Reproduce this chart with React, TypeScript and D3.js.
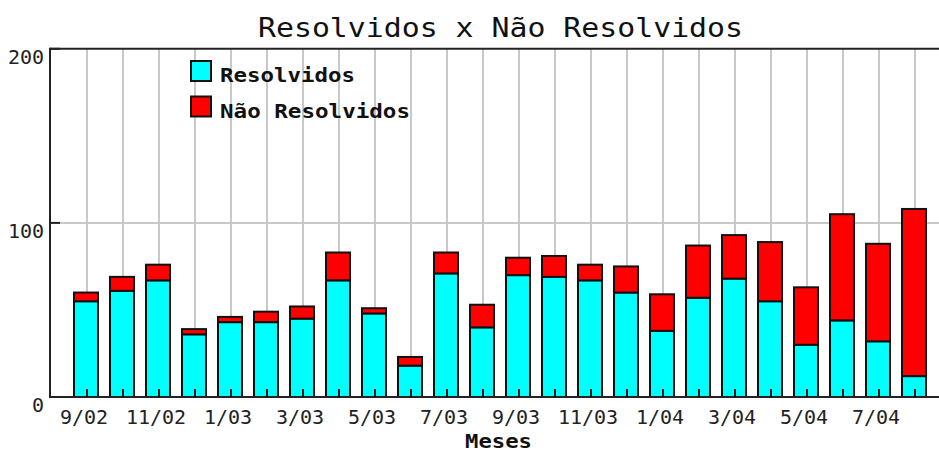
import React from "react";
import * as d3 from "d3";

const months = ["9/02","10/02","11/02","12/02","1/03","2/03","3/03","4/03","5/03","6/03","7/03","8/03","9/03","10/03","11/03","12/03","1/04","2/04","3/04","4/04","5/04","6/04","7/04","8/04"];
const resolvidos = [55,61,67,36,43,43,45,67,48,18,71,40,70,69,67,60,38,57,68,55,30,44,32,12];
const naoResolvidos = [5,8,9,3,3,6,7,16,3,5,12,13,10,12,9,15,21,30,25,34,33,61,56,96];
const yTicks = [0,100,200];
const seriesNames = ["Resolvidos","Não Resolvidos"];
const seriesColors = ["#00ffff","#ff0000"];

const W = 939, H = 452;
const axisLeft = 50, axisRight = 939;

export default function App() {
  const x = d3.scaleBand<string>().domain(months).range([69, 933]).padding(0);
  const y = d3.scaleLinear().domain([0, 200]).range([397, 48.8]);
  const rows = months.map((m, i) => ({ m, r: resolvidos[i], n: naoResolvidos[i] }));
  const stack = d3.stack<any>().keys(["r", "n"])(rows as any);
  const cx = (m: string) => (x(m) as number) + x.bandwidth() / 2;
  const mono = "'DejaVu Sans Mono', monospace";
  return (
    <svg width={W} height={H} style={{ position: "absolute", left: 0, top: 0, background: "#fff" }}>
      <rect width={W} height={H} fill="#fff" />
      {/* grid */}
      {months.map((m) => (
        <line key={"g" + m} x1={cx(m)} x2={cx(m)} y1={y(200)} y2={y(0)} stroke="#c8c8c8" strokeWidth={2} />
      ))}
      {yTicks.filter((t) => t > 0 && t < 200).map((t) => (
        <line key={"hg" + t} x1={axisLeft} x2={axisRight} y1={y(t)} y2={y(t)} stroke="#c8c8c8" strokeWidth={2} />
      ))}
      {/* bars */}
      {stack.map((s, si) =>
        s.map((d, i) => (
          <rect
            key={si + "-" + i}
            x={cx(months[i]) - 1 - 12}
            width={24}
            y={y(d[1])}
            height={y(d[0]) - y(d[1])}
            fill={seriesColors[si]}
            stroke="#111"
            strokeWidth={2}
          />
        ))
      )}
      {/* axes */}
      <line x1={axisLeft} x2={axisRight} y1={y(200)} y2={y(200)} stroke="#222" strokeWidth={2} />
      <line x1={axisLeft} x2={axisRight} y1={y(0)} y2={y(0)} stroke="#222" strokeWidth={2} />
      <line x1={axisLeft} x2={axisLeft} y1={y(200) - 1} y2={y(0) + 1} stroke="#222" strokeWidth={2} />
      {yTicks.map((t) => (
        <line key={"yt" + t} x1={axisLeft} x2={axisLeft + 10} y1={y(t)} y2={y(t)} stroke="#222" strokeWidth={2} />
      ))}
      {months.map((m) => (
        <line key={"xt" + m} x1={cx(m)} x2={cx(m)} y1={y(0)} y2={y(0) - 8} stroke="#111" strokeWidth={2} />
      ))}
      {/* y labels */}
      {yTicks.map((t) => (
        <text key={"yl" + t} x={44} y={y(t) + 15} textAnchor="end" fontFamily={mono} fontSize={20} fill="#222">
          {t}
        </text>
      ))}
      {/* x labels */}
      {months.map((m, i) =>
        i % 2 === 0 ? (
          <text key={"xl" + m} x={cx(m) - 3} y={424} textAnchor="middle" fontFamily={mono} fontSize={20} fill="#222">
            {m}
          </text>
        ) : null
      )}
      {/* title */}
      <text x={258} y={37} fontFamily={mono} fontSize={26} textLength={485} lengthAdjust="spacingAndGlyphs" fill="#111">
        Resolvidos x Não Resolvidos
      </text>
      {/* axis title */}
      <text x={465} y={448} fontFamily={mono} fontSize={19} fontWeight="bold" textLength={67} lengthAdjust="spacingAndGlyphs" fill="#111">
        Meses
      </text>
      {/* legend */}
      {seriesNames.map((name, i) => (
        <g key={"lg" + i}>
          <rect x={191} y={61 + i * 35.5} width={20} height={20} fill={seriesColors[i]} stroke="#111" strokeWidth={2} />
          <text x={220} y={82 + i * 36} fontFamily={mono} fontSize={20} fontWeight="bold" textLength={i === 0 ? 135 : 190} lengthAdjust="spacingAndGlyphs" fill="#111">
            {name}
          </text>
        </g>
      ))}
    </svg>
  );
}
